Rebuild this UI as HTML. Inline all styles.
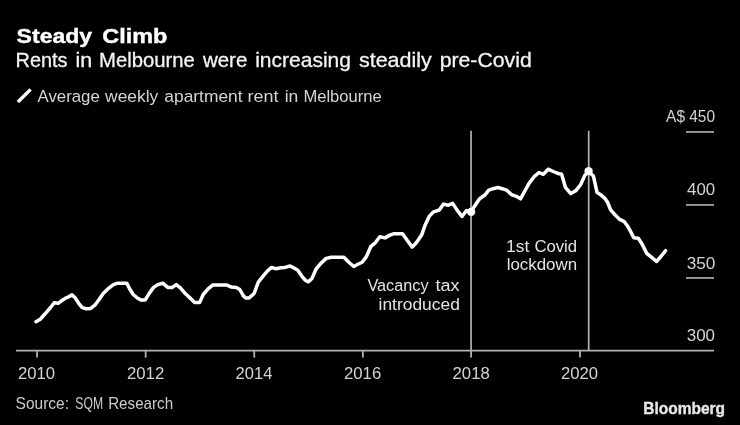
<!DOCTYPE html>
<html><head><meta charset="utf-8"><style>
html,body{margin:0;padding:0;background:#000;width:740px;height:425px;overflow:hidden}
svg{display:block;filter:grayscale(1)}
text{font-family:"Liberation Sans",sans-serif}
</style></head><body>
<svg width="740" height="425" viewBox="0 0 740 425">
<rect width="740" height="425" fill="#000"/>
<line x1="17.9" y1="102" x2="30.6" y2="89.4" stroke="#fff" stroke-width="3.4"/>
<g stroke="#a2a2a2" stroke-width="1.8">
<line x1="686" y1="131.95" x2="714" y2="131.95"/>
<line x1="686" y1="204.95" x2="714" y2="204.95"/>
<line x1="686" y1="277.95" x2="714" y2="277.95"/>
</g>
<line x1="16" y1="350.7" x2="714" y2="350.7" stroke="#b0b0b0" stroke-width="1.8"/>
<g stroke="#b0b0b0" stroke-width="1.8">
<line x1="37.05" y1="351" x2="37.05" y2="357.6"/>
<line x1="145.65" y1="351" x2="145.65" y2="357.6"/>
<line x1="254.25" y1="351" x2="254.25" y2="357.6"/>
<line x1="362.85" y1="351" x2="362.85" y2="357.6"/>
<line x1="471.1" y1="351" x2="471.1" y2="357.6"/>
<line x1="580.0" y1="351" x2="580.0" y2="357.6"/>
</g>
<g stroke="#b4b4b4" stroke-width="1.7">
<line x1="471.05" y1="130.8" x2="471.05" y2="350"/>
<line x1="588.7" y1="130.8" x2="588.7" y2="350"/>
</g>
<path d="M36.0 321.1 L40.2 318.7 L43.5 314.9 L46.8 311.2 L50.6 306.9 L54.2 302.2 L58.1 302.7 L61.9 299.9 L65.6 297.5 L68.0 296.5 L72.0 294.3 L75.1 297.1 L78.7 302.7 L82.2 307.0 L86.4 308.1 L90.7 307.8 L94.9 304.6 L99.1 298.9 L103.4 292.6 L107.6 288.6 L113.4 284.0 L117.6 282.6 L126.8 282.6 L129.6 288.2 L133.2 293.9 L137.4 297.4 L140.9 299.5 L145.1 299.5 L149.4 292.5 L153.6 286.8 L157.8 284.0 L162.8 282.6 L167.7 286.8 L172.0 287.0 L176.3 284.0 L180.6 287.5 L185.5 293.2 L190.5 297.8 L194.7 302.0 L199.6 302.0 L203.2 293.9 L208.1 288.2 L213.0 284.3 L226.4 284.3 L231.4 286.5 L236.3 286.8 L239.8 288.9 L243.4 295.3 L245.6 297.3 L249.2 297.3 L254.1 292.9 L258.3 281.6 L263.3 275.3 L267.5 270.3 L271.7 266.8 L276.0 268.2 L280.9 267.1 L285.1 266.8 L290.1 265.4 L293.6 267.2 L297.8 269.6 L302.1 276.0 L305.6 279.9 L308.4 281.2 L312.0 277.8 L316.2 268.2 L320.6 263.0 L326.2 257.8 L331.2 256.7 L343.9 256.7 L348.8 261.6 L353.7 265.9 L358.0 263.7 L362.2 261.6 L366.4 256.0 L370.7 246.1 L374.9 242.6 L379.8 236.2 L384.9 237.3 L389.9 234.5 L394.1 233.1 L402.6 233.1 L407.5 240.1 L412.2 246.5 L416.7 241.6 L421.6 234.5 L425.1 224.6 L429.4 215.5 L433.6 211.2 L439.3 209.4 L443.5 203.5 L448.4 204.6 L452.7 202.8 L457.1 209.5 L462.0 215.9 L466.2 210.2 L470.9 211.2 L474.7 205.3 L479.6 198.2 L484.6 194.7 L488.8 189.5 L493.0 188.1 L498.0 186.9 L502.2 188.1 L507.1 189.8 L511.4 194.0 L516.3 195.7 L520.5 198.2 L524.5 190.9 L529.2 182.5 L534.1 176.1 L539.0 171.9 L543.3 173.7 L548.2 168.6 L553.2 170.9 L557.4 172.6 L561.6 173.7 L565.4 186.7 L570.8 193.0 L575.7 190.2 L580.7 183.9 L584.9 174.7 L588.4 170.9 L593.4 175.4 L597.1 192.0 L600.6 194.1 L604.8 197.7 L607.7 201.9 L610.5 209.0 L614.7 213.9 L619.7 218.8 L623.9 220.7 L627.4 225.2 L631.0 231.6 L633.8 237.1 L638.3 237.6 L642.1 243.5 L646.8 252.9 L651.5 256.5 L656.5 260.9 L660.9 255.9 L665.6 250.0" fill="none" stroke="#fff" stroke-width="3.5" stroke-linejoin="round" stroke-linecap="round" transform="translate(0,0.6)"/>
<circle cx="471.1" cy="211.9" r="4.2" fill="#fff"/>
<circle cx="588.6" cy="171.1" r="4.2" fill="#fff"/>
<text x="16.61" y="42.60" font-family="Liberation Sans" font-size="20.60" font-weight="bold" fill="#ffffff" textLength="75.55" lengthAdjust="spacingAndGlyphs" stroke="#ffffff" stroke-width="0.4">Steady</text>
<text x="102.28" y="42.60" font-family="Liberation Sans" font-size="20.60" font-weight="bold" fill="#ffffff" textLength="65.02" lengthAdjust="spacingAndGlyphs" stroke="#ffffff" stroke-width="0.4">Climb</text>
<text x="15.52" y="66.50" font-family="Liberation Sans" font-size="20.60" font-weight="normal" fill="#f4f4f4" textLength="51.99" lengthAdjust="spacingAndGlyphs" stroke="#f4f4f4" stroke-width="0.3">Rents</text>
<text x="75.53" y="66.50" font-family="Liberation Sans" font-size="20.60" font-weight="normal" fill="#f4f4f4" textLength="16.73" lengthAdjust="spacingAndGlyphs" stroke="#f4f4f4" stroke-width="0.3">in</text>
<text x="99.08" y="66.50" font-family="Liberation Sans" font-size="20.60" font-weight="normal" fill="#f4f4f4" textLength="95.79" lengthAdjust="spacingAndGlyphs" stroke="#f4f4f4" stroke-width="0.3">Melbourne</text>
<text x="202.96" y="66.50" font-family="Liberation Sans" font-size="20.60" font-weight="normal" fill="#f4f4f4" textLength="44.37" lengthAdjust="spacingAndGlyphs" stroke="#f4f4f4" stroke-width="0.3">were</text>
<text x="255.19" y="66.50" font-family="Liberation Sans" font-size="20.60" font-weight="normal" fill="#f4f4f4" textLength="95.79" lengthAdjust="spacingAndGlyphs" stroke="#f4f4f4" stroke-width="0.3">increasing</text>
<text x="358.93" y="66.50" font-family="Liberation Sans" font-size="20.60" font-weight="normal" fill="#f4f4f4" textLength="72.94" lengthAdjust="spacingAndGlyphs" stroke="#f4f4f4" stroke-width="0.3">steadily</text>
<text x="439.66" y="66.50" font-family="Liberation Sans" font-size="20.60" font-weight="normal" fill="#f4f4f4" textLength="92.14" lengthAdjust="spacingAndGlyphs" stroke="#f4f4f4" stroke-width="0.3">pre-Covid</text>
<text x="37.49" y="101.70" font-family="Liberation Sans" font-size="16.70" font-weight="normal" fill="#d4d4d4" textLength="62.34" lengthAdjust="spacingAndGlyphs">Average</text>
<text x="105.08" y="101.70" font-family="Liberation Sans" font-size="16.70" font-weight="normal" fill="#d4d4d4" textLength="53.22" lengthAdjust="spacingAndGlyphs">weekly</text>
<text x="164.30" y="101.70" font-family="Liberation Sans" font-size="16.70" font-weight="normal" fill="#d4d4d4" textLength="78.26" lengthAdjust="spacingAndGlyphs">apartment</text>
<text x="247.62" y="101.70" font-family="Liberation Sans" font-size="16.70" font-weight="normal" fill="#d4d4d4" textLength="30.95" lengthAdjust="spacingAndGlyphs">rent</text>
<text x="284.66" y="101.70" font-family="Liberation Sans" font-size="16.70" font-weight="normal" fill="#d4d4d4" textLength="13.61" lengthAdjust="spacingAndGlyphs">in</text>
<text x="303.42" y="101.70" font-family="Liberation Sans" font-size="16.70" font-weight="normal" fill="#d4d4d4" textLength="78.34" lengthAdjust="spacingAndGlyphs">Melbourne</text>
<text x="666.10" y="121.80" font-family="Liberation Sans" font-size="16.80" font-weight="normal" fill="#d4d4d4" textLength="48.93" lengthAdjust="spacingAndGlyphs">A$ 450</text>
<text x="687.04" y="195.00" font-family="Liberation Sans" font-size="16.80" font-weight="normal" fill="#d4d4d4" textLength="28.14" lengthAdjust="spacingAndGlyphs">400</text>
<text x="686.67" y="268.60" font-family="Liberation Sans" font-size="16.80" font-weight="normal" fill="#d4d4d4" textLength="28.72" lengthAdjust="spacingAndGlyphs">350</text>
<text x="686.71" y="340.70" font-family="Liberation Sans" font-size="16.80" font-weight="normal" fill="#d4d4d4" textLength="28.36" lengthAdjust="spacingAndGlyphs">300</text>
<text x="17.97" y="379.10" font-family="Liberation Sans" font-size="17.00" font-weight="normal" fill="#d4d4d4" textLength="37.16" lengthAdjust="spacingAndGlyphs">2010</text>
<text x="126.94" y="379.10" font-family="Liberation Sans" font-size="17.00" font-weight="normal" fill="#d4d4d4" textLength="37.27" lengthAdjust="spacingAndGlyphs">2012</text>
<text x="235.57" y="379.10" font-family="Liberation Sans" font-size="17.00" font-weight="normal" fill="#d4d4d4" textLength="36.84" lengthAdjust="spacingAndGlyphs">2014</text>
<text x="343.99" y="379.10" font-family="Liberation Sans" font-size="17.00" font-weight="normal" fill="#d4d4d4" textLength="37.22" lengthAdjust="spacingAndGlyphs">2016</text>
<text x="452.56" y="379.10" font-family="Liberation Sans" font-size="17.00" font-weight="normal" fill="#d4d4d4" textLength="37.19" lengthAdjust="spacingAndGlyphs">2018</text>
<text x="561.01" y="379.10" font-family="Liberation Sans" font-size="17.00" font-weight="normal" fill="#d4d4d4" textLength="37.09" lengthAdjust="spacingAndGlyphs">2020</text>
<text x="378.59" y="309.70" font-family="Liberation Sans" font-size="17.20" font-weight="normal" fill="#e4e4e4" textLength="81.28" lengthAdjust="spacingAndGlyphs">introduced</text>
<text x="506.74" y="269.60" font-family="Liberation Sans" font-size="17.20" font-weight="normal" fill="#e4e4e4" textLength="70.31" lengthAdjust="spacingAndGlyphs">lockdown</text>
<text x="643.22" y="414.40" font-family="Liberation Sans" font-size="16.00" font-weight="bold" fill="#e8e8e8" textLength="81.83" lengthAdjust="spacingAndGlyphs" stroke="#e8e8e8" stroke-width="0.35">Bloomberg</text>
<text x="367.43" y="291.20" font-family="Liberation Sans" font-size="17.20" font-weight="normal" fill="#e4e4e4" textLength="61.10" lengthAdjust="spacingAndGlyphs">Vacancy</text>
<text x="435.57" y="291.20" font-family="Liberation Sans" font-size="17.20" font-weight="normal" fill="#e4e4e4" textLength="24.05" lengthAdjust="spacingAndGlyphs">tax</text>
<text x="506.02" y="251.50" font-family="Liberation Sans" font-size="17.20" font-weight="normal" fill="#e4e4e4" textLength="23.27" lengthAdjust="spacingAndGlyphs">1st</text>
<text x="534.40" y="251.50" font-family="Liberation Sans" font-size="17.20" font-weight="normal" fill="#e4e4e4" textLength="42.75" lengthAdjust="spacingAndGlyphs">Covid</text>
<text x="15.61" y="408.70" font-family="Liberation Sans" font-size="16.20" font-weight="normal" fill="#cccccc" textLength="53.42" lengthAdjust="spacingAndGlyphs">Source:</text>
<text x="75.30" y="408.70" font-family="Liberation Sans" font-size="16.20" font-weight="normal" fill="#cccccc" textLength="27.78" lengthAdjust="spacingAndGlyphs">SQM</text>
<text x="108.16" y="408.70" font-family="Liberation Sans" font-size="16.20" font-weight="normal" fill="#cccccc" textLength="64.97" lengthAdjust="spacingAndGlyphs">Research</text>
</svg>
</body></html>
